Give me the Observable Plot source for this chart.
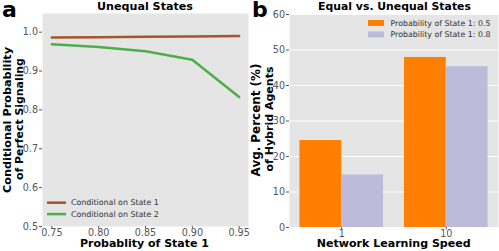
<!DOCTYPE html>
<html>
<head>
<meta charset="utf-8">
<script src="https://cdn.jsdelivr.net/npm/d3@7"></script>
<script src="https://cdn.jsdelivr.net/npm/@observablehq/plot@0.6"></script>
<style>
  html, body { margin: 0; padding: 0; background: #fff; }
  #wrap { position: relative; width: 499px; height: 251px; overflow: hidden; font-family: "DejaVu Sans", sans-serif; }
  #wrap > svg, #wrap > div { position: absolute; top: 0; }
</style>
</head>
<body>
<div id="wrap"></div>
<script>
// ---- Panel a data ----
const probs = [0.75, 0.80, 0.85, 0.90, 0.95];
const state1 = [0.986, 0.987, 0.988, 0.989, 0.990];
const state2 = [0.969, 0.962, 0.951, 0.929, 0.833];
const seriesNames = ["Conditional on State 1", "Conditional on State 2"];
const lineColors = ["#a65628", "#4daf4a"];
const xTicksA = [0.75, 0.80, 0.85, 0.90, 0.95];
const yTicksA = [0.5, 0.6, 0.7, 0.8, 0.9, 1.0];

// ---- Panel b data ----
const speeds = ["1", "10"];
const barSeries = ["Probability of State 1: 0.5", "Probability of State 1: 0.8"];
const bar05 = [24.5, 47.9];
const bar08 = [14.8, 45.3];
const barColors = ["#ff7f00", "#bebada"];
const yTicksB = [0, 10, 20, 30, 40, 50, 60];

const bg = "#e5e5e5";
const font = "DejaVu Sans";
const wrap = document.getElementById("wrap");

// Panel a
const dataA = [];
probs.forEach((p, i) => dataA.push({p, v: state1[i], s: seriesNames[0]}));
probs.forEach((p, i) => dataA.push({p, v: state2[i], s: seriesNames[1]}));

const plotA = Plot.plot({
  width: 250, height: 251,
  marginLeft: 42, marginRight: 2, marginTop: 13, marginBottom: 25,
  style: {fontFamily: font, fontSize: "9.6px", color: "#555", background: "transparent"},
  x: {domain: [0.74, 0.96]},
  y: {domain: [0.5, 1.048]},
  color: {domain: seriesNames, range: lineColors},
  marks: [
    Plot.frame({fill: bg, stroke: "none"}),
    Plot.axisX({ticks: xTicksA, tickFormat: d3.format(".2f"), tickSize: 2.5, tickPadding: 0, label: null, fontSize: 9.6}),
    Plot.axisY({ticks: yTicksA, tickFormat: d3.format(".1f"), tickSize: 3, tickPadding: 1.5, label: null, fontSize: 9.6}),
    Plot.line(dataA, {x: "p", y: "v", z: "s", stroke: "s", strokeWidth: 2.5})
  ]
});
plotA.style.left = "0px";
wrap.appendChild(plotA);

// Panel b
const barW = 0.4;
const dataB = [];
speeds.forEach((sp, i) => {
  dataB.push({x1: i - barW, x2: i, v: bar05[i], s: barSeries[0]});
  dataB.push({x1: i, x2: i + barW, v: bar08[i], s: barSeries[1]});
});

const plotB = Plot.plot({
  width: 249, height: 251,
  marginLeft: 39, marginRight: 1, marginTop: 14, marginBottom: 24,
  style: {fontFamily: font, fontSize: "9.6px", color: "#555", background: "transparent"},
  x: {domain: [-0.5, 1.5]},
  y: {domain: [0, 60]},
  color: {domain: barSeries, range: barColors},
  marks: [
    Plot.frame({fill: bg, stroke: "none"}),
    Plot.gridY({ticks: yTicksB, stroke: "white", strokeOpacity: 1, strokeWidth: 1}),
    Plot.axisX({ticks: [0, 1], tickFormat: i => speeds[i], tickSize: 2.5, tickPadding: 0, label: null, fontSize: 9.6}),
    Plot.axisY({ticks: yTicksB, tickSize: 3, tickPadding: 1.5, label: null, fontSize: 9.6}),
    Plot.rectY(dataB, {x1: "x1", x2: "x2", y: "v", fill: "s"})
  ]
});
plotB.style.left = "250px";
wrap.appendChild(plotB);

// Overlay: titles, labels, legends
const ov = d3.select(wrap).append("svg")
  .attr("width", 499).attr("height", 251)
  .style("left", "0px")
  .attr("font-family", font);

// text fitted to a target length measured on the reference
function txt(x, y, s, len, opts = {}) {
  const t = ov.append("text").attr("x", x).attr("y", y).text(s)
    .attr("font-size", 10).attr("fill", opts.fill || "#000")
    .attr("font-weight", opts.bold ? "bold" : "normal")
    .attr("text-anchor", opts.anchor || "start");
  if (len) {
    const w = t.node().getComputedTextLength();
    if (w > 0) t.attr("font-size", 10 * len / w);
  } else if (opts.size) {
    t.attr("font-size", opts.size);
  }
  if (opts.rotate) t.attr("transform", `rotate(-90 ${x} ${y})`);
  return t;
}

txt(2, 17.3, "a", 0, {bold: true, size: 22});
txt(252, 17.3, "b", 0, {bold: true, size: 22});
txt(145, 10, "Unequal States", 96, {bold: true, anchor: "middle"});
txt(394.5, 10, "Equal vs. Unequal States", 153, {bold: true, anchor: "middle"});
txt(144.5, 247.3, "Probablity of State 1", 129, {bold: true, anchor: "middle"});
txt(393.7, 247.3, "Network Learning Speed", 154, {bold: true, anchor: "middle"});
txt(10.5, 120, "Conditional Probability", 146, {bold: true, anchor: "middle", rotate: true});
txt(23, 119, "of Perfect Signaling", 122, {bold: true, anchor: "middle", rotate: true});
txt(260, 120, "Avg. Percent (%)", 113, {bold: true, anchor: "middle", rotate: true});
txt(272.7, 119, "of Hybrid Agents", 105, {bold: true, anchor: "middle", rotate: true});

// Legend a
seriesNames.forEach((n, i) => {
  const y = 202.7 + i * 11.4;
  ov.append("line").attr("x1", 47).attr("x2", 66).attr("y1", y).attr("y2", y)
    .attr("stroke", lineColors[i]).attr("stroke-width", 2.5);
  txt(71, y + 2.6, n, 88, {fill: "#333"});
});

// Legend b
barSeries.forEach((n, i) => {
  const y = 23 + i * 11.4;
  ov.append("rect").attr("x", 368).attr("y", y - 3).attr("width", 16).attr("height", 6)
    .attr("fill", barColors[i]);
  txt(390.5, y + 2.6, n, 100, {fill: "#333"});
});
</script>
</body>
</html>
